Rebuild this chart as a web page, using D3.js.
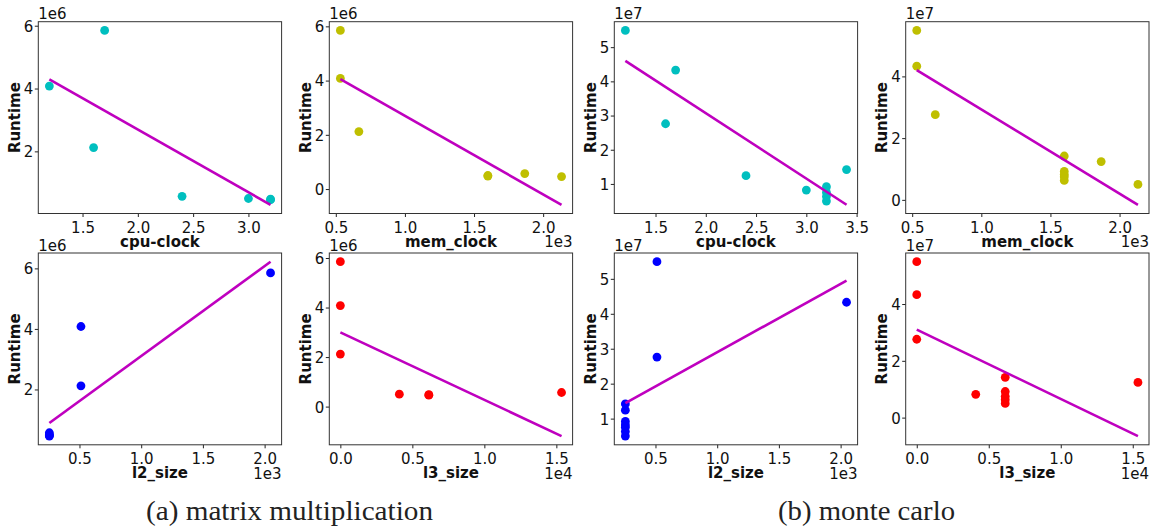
<!DOCTYPE html>
<html>
<head>
<meta charset="utf-8">
<script src="https://cdn.jsdelivr.net/npm/d3@7"></script>
<style>
body { margin: 0; background: #fff; }
</style>
</head>
<body>
<script>
// matrix multiplication runs
const mmCpu = [1.2, 1.7, 1.6, 2.4, 3.0, 3.2, 3.2];
const mmMem = [533, 533, 667, 1867, 1600, 1600, 2133];
const mmL2 = [512, 2048, 512, 256, 256, 256, 256];
const mmL3 = [0, 0, 0, 15360, 4096, 6144, 6144];
const mmRuntime = [4.08e6, 5.85e6, 2.12e6, 0.57e6, 0.50e6, 0.48e6, 0.46e6];

// monte carlo runs
const mcCpu = [1.2, 1.7, 1.6, 2.4, 3.0, 3.2, 3.2, 3.2, 3.2, 3.4];
const mcMem = [533, 533, 667, 1867, 1600, 1600, 1600, 1600, 2133, 1600];
const mcL2 = [512, 2048, 512, 256, 256, 256, 256, 256, 256, 256];
const mcL3 = [0, 0, 0, 15360, 4096, 6144, 6144, 6144, 6144, 6144];
const mcRuntime = [5.49e7, 4.33e7, 2.76e7, 1.24e7, 0.82e7, 0.92e7, 0.75e7, 0.63e7, 0.50e7, 1.42e7];

// regression lines, end points
const mmFitCpu = [[1.2, 4.29e6], [3.2, 0.30e6]];
const mmFitMem = [[533, 4.05e6], [2133, -0.58e6]];
const mmFitL2 = [[256, 0.89e6], [2048, 6.22e6]];
const mmFitL3 = [[0, 3.0e6], [15360, -1.19e6]];
const mcFitCpu = [[1.2, 4.6e7], [3.4, 0.39e7]];
const mcFitMem = [[533, 4.2e7], [2133, -0.16e7]];
const mcFitL2 = [[256, 1.44e7], [2048, 4.95e7]];
const mcFitL3 = [[0, 3.1e7], [15360, -0.65e7]];

// tick values
const mmCpuTicks = [1.5, 2.0, 2.5, 3.0];
const mcCpuTicks = [1.5, 2.0, 2.5, 3.0, 3.5];
const memTicks = [500, 1000, 1500, 2000];
const l2Ticks = [500, 1000, 1500, 2000];
const l3Ticks = [0, 5000, 10000, 15000];
const mmRunTicksA = [2e6, 4e6, 6e6];
const mmRunTicksB = [0, 2e6, 4e6, 6e6];
const mcRunTicksA = [1e7, 2e7, 3e7, 4e7, 5e7];
const mcRunTicksB = [0, 2e7, 4e7];

const captions = ["(a) matrix multiplication", "(b) monte carlo"];

function main(){
    const svg = d3.select("body").append("svg")
        .attr("width", 1155)
        .attr("height", 527);

    const colX = [38.3, 329.3, 614.3, 905.7];
    const rowY = [21.7, 253];
    const plotW = 243.3;
    const plotH = 191.8;
    const font = "'DejaVu Sans', sans-serif";

    const cyan = "#00bfbf", olive = "#bfbf00", blue = "#0000ff", red = "#ff0000";

    const panels = [
        {x: mmCpu, y: mmRuntime, fit: mmFitCpu, color: cyan, label: "cpu-clock", xt: mmCpuTicks, yt: mmRunTicksA, xe: 0, ye: 6},
        {x: mmMem, y: mmRuntime, fit: mmFitMem, color: olive, label: "mem_clock", xt: memTicks, yt: mmRunTicksB, xe: 3, ye: 6},
        {x: mcCpu, y: mcRuntime, fit: mcFitCpu, color: cyan, label: "cpu-clock", xt: mcCpuTicks, yt: mcRunTicksA, xe: 0, ye: 7},
        {x: mcMem, y: mcRuntime, fit: mcFitMem, color: olive, label: "mem_clock", xt: memTicks, yt: mcRunTicksB, xe: 3, ye: 7},
        {x: mmL2, y: mmRuntime, fit: mmFitL2, color: blue, label: "l2_size", xt: l2Ticks, yt: mmRunTicksA, xe: 3, ye: 6},
        {x: mmL3, y: mmRuntime, fit: mmFitL3, color: red, label: "l3_size", xt: l3Ticks, yt: mmRunTicksB, xe: 4, ye: 6},
        {x: mcL2, y: mcRuntime, fit: mcFitL2, color: blue, label: "l2_size", xt: l2Ticks, yt: mcRunTicksA, xe: 3, ye: 7},
        {x: mcL3, y: mcRuntime, fit: mcFitL3, color: red, label: "l3_size", xt: l3Ticks, yt: mcRunTicksB, xe: 4, ye: 7}
    ];

    // matplotlib style limits: data extent + 5% each side
    function padded(vals){
        const [lo, hi] = d3.extent(vals);
        const m = (hi - lo) * 0.05;
        return [lo - m, hi + m];
    }

    panels.forEach((p, i) => {
        const g = svg.append("g")
            .attr("transform", "translate(" + colX[i % 4] + "," + rowY[Math.floor(i / 4)] + ")");

        const xScale = d3.scaleLinear()
            .domain(padded(p.x.concat(p.fit.map(d => d[0]))))
            .range([0, plotW]);
        const yScale = d3.scaleLinear()
            .domain(padded(p.y.concat(p.fit.map(d => d[1]))))
            .range([plotH, 0]);

        const xDiv = Math.pow(10, p.xe);
        const yDiv = Math.pow(10, p.ye);

        const xAxis = g.append("g")
            .attr("transform", "translate(0," + plotH + ")")
            .call(d3.axisBottom(xScale).tickValues(p.xt).tickSize(3.5)
                .tickFormat(d => d3.format(".1f")(d / xDiv)));
        const yAxis = g.append("g")
            .call(d3.axisLeft(yScale).tickValues(p.yt).tickSize(3.5)
                .tickFormat(d => d3.format("d")(Math.round(d / yDiv))));

        [xAxis, yAxis].forEach(a => {
            a.select(".domain").remove();
            a.attr("font-family", null).attr("font-size", null);
            a.selectAll("text").style("font-size", "15px").style("font-family", font)
                .attr("fill", "#111");
            a.selectAll("line").attr("stroke", "#222");
        });
        xAxis.selectAll("text").attr("y", 19).attr("dy", null);
        yAxis.selectAll("text").attr("x", -5).attr("dy", "0.36em");

        g.append("rect")
            .attr("width", plotW)
            .attr("height", plotH)
            .attr("fill", "none")
            .attr("stroke", "#333")
            .attr("stroke-width", 1);

        g.selectAll("circle")
            .data(p.x.map((v, k) => [v, p.y[k]]))
            .enter().append("circle")
            .attr("cx", d => xScale(d[0]))
            .attr("cy", d => yScale(d[1]))
            .attr("r", 4.4)
            .attr("fill", p.color);

        g.append("path")
            .datum(p.fit)
            .attr("fill", "none")
            .attr("stroke", "#bf00bf")
            .attr("stroke-width", 2.6)
            .attr("d", d3.line().x(d => xScale(d[0])).y(d => yScale(d[1])));

        // offset texts
        g.append("text")
            .attr("x", 0).attr("y", -2.4)
            .style("font-size", "15px").style("font-family", font).attr("fill", "#111")
            .text("1e" + p.ye);
        if (p.xe > 0) {
            g.append("text")
                .attr("x", plotW).attr("y", plotH + 34)
                .attr("text-anchor", "end")
                .style("font-size", "15px").style("font-family", font).attr("fill", "#111")
                .text("1e" + p.xe);
        }

        g.append("text")
            .attr("x", plotW / 2).attr("y", plotH + 33.5)
            .attr("text-anchor", "middle")
            .style("font-size", "15px").style("font-family", font)
            .attr("font-weight", "bold").attr("fill", "#111")
            .text(p.label);

        g.append("text")
            .attr("transform", "translate(-18.3," + (plotH / 2) + ") rotate(-90)")
            .attr("text-anchor", "middle")
            .style("font-size", "15px").style("font-family", font)
            .attr("font-weight", "bold").attr("fill", "#111")
            .text("Runtime");
    });

    const capX = [289.5, 866.5];
    const capW = [287, 177];
    captions.forEach((c, i) => {
        svg.append("text")
            .attr("x", capX[i]).attr("y", 520)
            .attr("text-anchor", "middle")
            .style("font-family", "'Liberation Serif', serif")
            .style("font-size", "27px")
            .attr("fill", "#222")
            .attr("textLength", capW[i])
            .attr("lengthAdjust", "spacingAndGlyphs")
            .text(c);
    });
}
main();
</script>
</body>
</html>
